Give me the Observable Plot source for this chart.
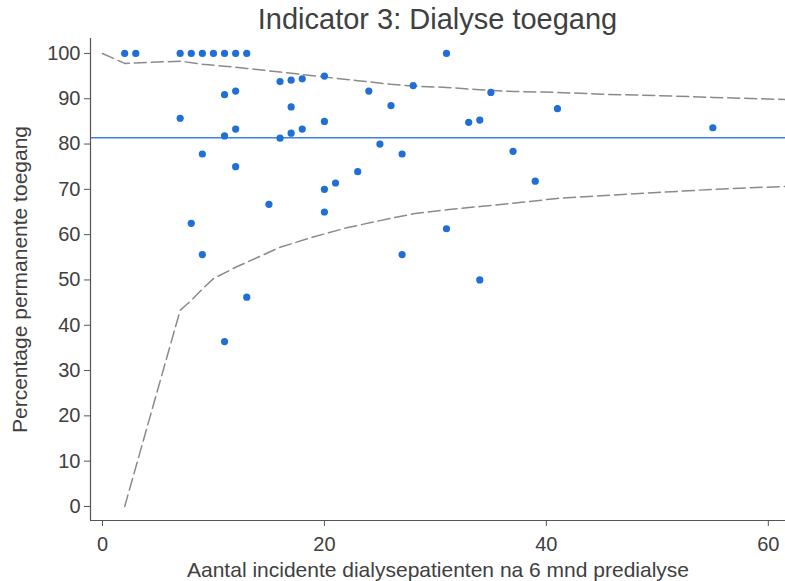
<!DOCTYPE html>
<html>
<head>
<meta charset="utf-8">
<script src="https://cdn.jsdelivr.net/npm/d3@7"></script>
<script src="https://cdn.jsdelivr.net/npm/@observablehq/plot@0.6"></script>
<style>
  html, body { margin: 0; padding: 0; background: #fff; }
  body { width: 785px; height: 581px; overflow: hidden; font-family: "Liberation Sans", Arial, sans-serif; }
  #title { height: 38px; line-height: 38px; text-align: center; padding-left: 90px; box-sizing: border-box; font-size: 29px; color: #404040; white-space: nowrap; }
</style>
</head>
<body>
<div id="title">Indicator 3: Dialyse toegang</div>
<div id="chart"></div>
<script>
// Centre points: number of incident patients (n) and % permanent access
const centreN = [2, 3, 7, 8, 9, 10, 11, 12, 13, 31,
  7, 8, 9, 9, 11, 11, 11, 12, 12, 12,
  13, 15, 16, 16, 17, 17, 17, 18, 18, 20,
  20, 20, 20, 21, 23, 24, 25, 26, 27, 27,
  28, 31, 33, 34, 34, 35, 37, 39, 41, 55];
const centrePct = [100, 100, 100, 100, 100, 100, 100, 100, 100, 100,
  85.7, 62.5, 77.8, 55.6, 90.9, 81.8, 36.4, 91.7, 83.3, 75,
  46.2, 66.7, 93.8, 81.3, 94.1, 88.2, 82.4, 94.4, 83.3, 95,
  85, 70, 65, 71.4, 73.9, 91.7, 80, 88.5, 77.8, 55.6,
  92.9, 61.3, 84.8, 85.3, 50, 91.4, 78.4, 71.8, 87.8, 83.6];

// Overall mean line
const meanPct = 81.4;

// Funnel limits
const upperN = [0, 2, 7, 9, 11, 13, 16, 20, 23, 26, 28, 31, 34, 37, 41, 45, 50, 55, 62];
const upperPct = [100, 97.8, 98.3, 97.6, 97.2, 96.7, 95.9, 94.8, 94, 93.2, 92.8, 92.5, 92, 91.6, 91.4, 91, 90.7, 90.3, 89.8];
const lowerN = [2, 7, 8, 9, 10, 12, 14, 16, 19, 22, 25, 28, 31, 34, 38, 41, 50, 55, 62];
const lowerPct = [0, 43.3, 45.5, 48, 50.3, 52.8, 55, 57.2, 59.5, 61.5, 63.1, 64.6, 65.5, 66.2, 67.2, 68, 69.3, 70, 70.7];

const xTicks = [0, 20, 40, 60];
const yTicks = [0, 10, 20, 30, 40, 50, 60, 70, 80, 90, 100];
const xDomain = [-1.08, 61.55];
const yDomain = [-3.1, 103.3];

const points = centreN.map((n, i) => ({n, pct: centrePct[i]}));
const upper = upperN.map((n, i) => ({n, pct: upperPct[i]}));
const lower = lowerN.map((n, i) => ({n, pct: lowerPct[i]}));

const blue = "#1f6fd6";
const axisColor = "#555";

const chart = Plot.plot({
  width: 785,
  height: 543,
  marginLeft: 90,
  marginRight: 0,
  marginTop: 0,
  marginBottom: 61,
  style: {fontFamily: "'Liberation Sans', Arial, sans-serif", fontSize: "20px", color: "#404040", background: "#fff"},
  x: {domain: xDomain},
  y: {domain: yDomain},
  marks: [
    Plot.ruleY([meanPct], {stroke: "#3a82e4", strokeWidth: 1.6}),
    Plot.line(upper, {x: "n", y: "pct", stroke: "#8a8a8a", strokeWidth: 1.5, strokeDasharray: "12,5", clip: true}),
    Plot.line(lower, {x: "n", y: "pct", stroke: "#8a8a8a", strokeWidth: 1.5, strokeDasharray: "12,5", clip: true}),
    Plot.dot(points, {x: "n", y: "pct", r: 3.6, fill: blue, stroke: "none"}),
    Plot.ruleX([xDomain[0]], {stroke: axisColor, strokeWidth: 1.2}),
    Plot.ruleY([yDomain[0]], {stroke: axisColor, strokeWidth: 1.2}),
    Plot.axisX({ticks: xTicks, tickSize: 6, tickPadding: 10, stroke: axisColor, fontSize: 20,
      label: "Aantal incidente dialysepatienten na 6 mnd predialyse", labelAnchor: "center", labelArrow: "none", labelOffset: 56}),
    Plot.axisY({ticks: yTicks, tickSize: 6, tickPadding: 4, stroke: axisColor, fontSize: 20,
      label: "Percentage permanente toegang", labelAnchor: "center", labelArrow: "none", labelOffset: 78})
  ]
});
chart.querySelectorAll("[aria-label$='axis label'] text, g[aria-label='x-axis label'], g[aria-label='y-axis label']").forEach(el => el.setAttribute("font-size", "21"));
document.getElementById("chart").appendChild(chart);
</script>
</body>
</html>
